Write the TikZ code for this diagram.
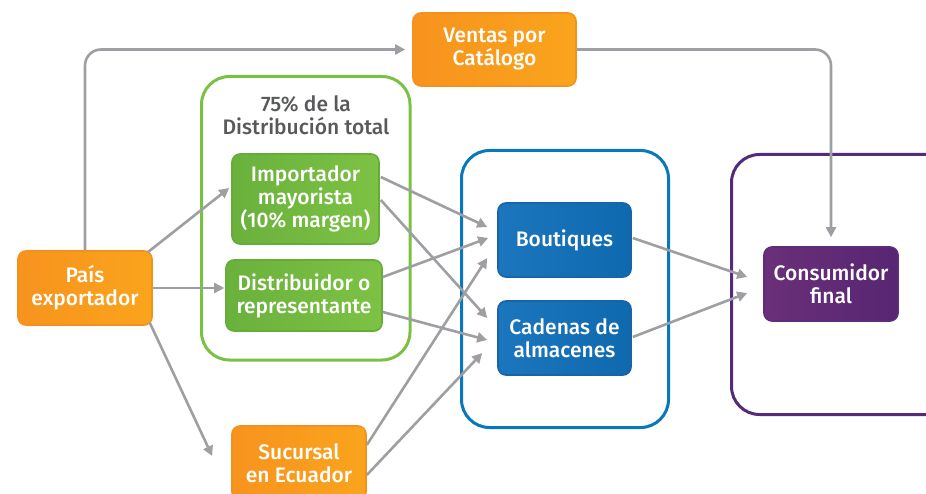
\documentclass[tikz,border=0pt]{standalone}
\usepackage{fontspec}
\setmainfont{Fira Sans}[BoldFont={Fira Sans Medium}]
\usetikzlibrary{arrows.meta,calc}
\definecolor{orA}{HTML}{F7931E}
\definecolor{orB}{HTML}{FAA41C}
\definecolor{orD}{HTML}{F4901C}
\definecolor{grA}{HTML}{6AB13D}
\definecolor{grB}{HTML}{7DC244}
\definecolor{grD}{HTML}{65AC39}
\definecolor{grL}{HTML}{7AC143}
\definecolor{blA}{HTML}{1C76BD}
\definecolor{blB}{HTML}{0E69AF}
\definecolor{blD}{HTML}{1764A8}
\definecolor{blL}{HTML}{0877BC}
\definecolor{puA}{HTML}{6A2F78}
\definecolor{puB}{HTML}{572672}
\definecolor{puD}{HTML}{5E2C79}
\definecolor{puL}{HTML}{542A7C}
\definecolor{arr}{HTML}{9D9FA2}
\definecolor{ttl}{HTML}{58595B}
\tikzset{
  box/.style={rounded corners=8pt, line width=1.6pt, text=white, align=center,
    font=\bfseries\fontsize{21}{23}\selectfont, inner sep=0pt},
  obox/.style={box, draw=orD, left color=orA, right color=orB},
  gbox/.style={box, draw=grD, left color=grA, right color=grB},
  bbox/.style={box, draw=blD, left color=blA, right color=blB},
  pbox/.style={box, draw=puD, left color=puA, right color=puB},
  cont/.style={rounded corners=28pt, line width=3pt},
  conn/.style={draw=arr, line width=2.6pt, -{Triangle[length=10pt,width=10pt]}},
}
\begin{document}
\begin{tikzpicture}[x=1pt,y=-1pt]
\useasboundingbox (0,0) rectangle (926,494);
% containers
\draw[cont, draw=grL] (201.5,76.5) rectangle (410,360);
\draw[cont, draw=blL] (461.5,150.5) rectangle (668.5,427.5);
\draw[cont, draw=puL] (731.5,154.5) rectangle (960,414.5);
\node[text=ttl, font=\bfseries\fontsize{21}{23}\selectfont, align=center] (ttl) at (306,115) {75\% de la\\Distribución total};
% nodes
\node[obox, minimum width=163pt, minimum height=73pt] (ventas) at (494.5,49.5) {Ventas por\\Catálogo};
\node[obox, minimum width=134pt, minimum height=74pt] (pais) at (85,288) {País\\exportador};
\node[gbox, minimum width=147pt, minimum height=90pt] (imp) at (305.5,199) {Importador\\mayorista\\(10\% margen)};
\node[gbox, minimum width=156pt, minimum height=71pt] (dist) at (304,295.5) {Distribuidor o\\representante};
\node[obox, minimum width=134pt, minimum height=74pt] (suc) at (299,463) {Sucursal\\en Ecuador};
\node[bbox, minimum width=133pt, minimum height=74pt] (bout) at (564.5,240) {Boutiques};
\node[bbox, minimum width=133pt, minimum height=74pt] (cad) at (564.5,338) {Cadenas de\\almacenes};
\node[pbox, minimum width=134pt, minimum height=74pt] (cons) at (831,284) {Consumidor\\final};
% connectors
\draw[conn, rounded corners=16pt, shorten >=7pt] (pais.north) |- (ventas.west);
\draw[conn, rounded corners=16pt, shorten >=9pt] (ventas.east) -| (cons.north);
\draw[conn] ($(pais.north east)+(-5,2)$) -- ($(imp.west)+(-2,-11)$);
\draw[conn] (pais.east) -- ($(dist.west)+(-1,-7.5)$);
\draw[conn] ($(pais.south east)+(-3,-3)$) -- ($(suc.west)+(-19,-7)$);
\draw[conn] ($(imp.east)+(1,-22)$) -- ($(bout.west)+(-10,-13)$);
\draw[conn] ($(imp.east)+(1,1)$) -- ($(cad.west)+(-10,-20)$);
\draw[conn] ($(dist.east)+(0,-18.5)$) -- ($(bout.west)+(-9,-2)$);
\draw[conn] ($(dist.east)+(0,16.5)$) -- ($(cad.west)+(-10,2)$);
\draw[conn] ($(suc.east)+(0,-18)$) -- ($(bout.west)+(-10,18)$);
\draw[conn] ($(suc.east)+(0,12)$) -- ($(cad.west)+(-15,15)$);
\draw[conn] ($(bout.east)+(1,-2)$) -- ($(cons.west)+(-16,-7)$);
\draw[conn] ($(cad.east)+(1,-1)$) -- ($(cons.west)+(-16,9)$);
\end{tikzpicture}
\end{document}
